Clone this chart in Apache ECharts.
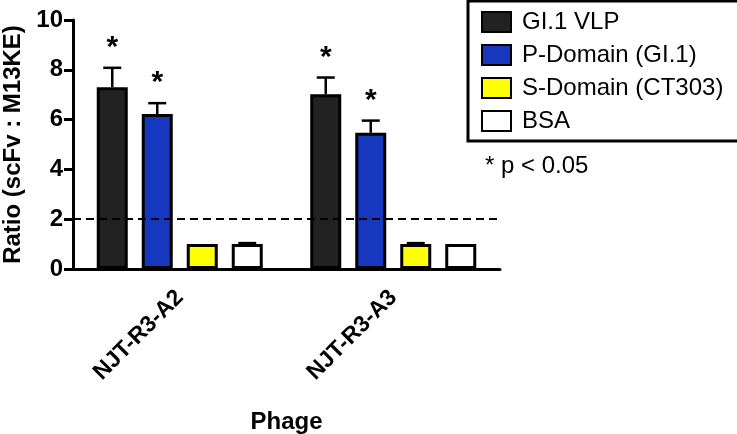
<!DOCTYPE html>
<html>
<head>
<meta charset="utf-8">
<script src="https://cdn.jsdelivr.net/npm/echarts@6/dist/echarts.min.js"></script>
<style>html,body{margin:0;padding:0;background:#fff;}#c{width:737px;height:434px;}</style>
</head>
<body>
<div id="c"></div>
<script>
var categories = ['NJT-R3-A2', 'NJT-R3-A3'];
var seriesNames = ['GI.1 VLP', 'P-Domain (GI.1)', 'S-Domain (CT303)', 'BSA'];
var colors = ['#222222', '#1538be', '#ffff00', '#ffffff'];
var vlpMean = [7.3, 7.02];
var vlpErr = [0.78, 0.67];
var pDomMean = [6.22, 5.47];
var pDomErr = [0.44, 0.49];
var sDomMean = [1.0, 1.0];
var sDomErr = [0.0, 0.04];
var bsaMean = [1.0, 1.0];
var bsaErr = [0.04, 0.0];
var significant = [[true, true], [true, true], [false, false], [false, false]];
var yTicks = [0, 2, 4, 6, 8, 10];
var threshold = 2;

var FONT = '"Liberation Sans", Arial, sans-serif';
var means = [vlpMean, pDomMean, sDomMean, bsaMean];
var errs = [vlpErr, pDomErr, sDomErr, bsaErr];
var BW = 31, GAP = 14;

var series = [];
means.forEach(function (m, i) {
  var s = {
    name: seriesNames[i], type: 'bar', data: m, barWidth: BW, barGap: (GAP / BW * 100) + '%',
    itemStyle: { color: colors[i], borderColor: '#000', borderWidth: 3 },
    z: 2
  };
  if (i === 0) {
    s.markLine = {
      silent: true, symbol: 'none', label: { show: false },
      lineStyle: { type: [8, 5], color: '#000', width: 2 },
      data: [{ yAxis: threshold }]
    };
  }
  series.push(s);
});
means.forEach(function (m, i) {
  series.push({
    type: 'custom', name: seriesNames[i] + ' err', z: 1,
    data: m.map(function (v, j) { return [j, v, v + errs[i][j], significant[i][j] ? 1 : 0]; }),
    renderItem: function (params, api) {
      var off = (i - 1.5) * (BW + GAP);
      var base = api.coord([api.value(0), api.value(1)]);
      var top = api.coord([api.value(0), api.value(2)]);
      var x = base[0] + off;
      var children = [];
      if (api.value(2) > api.value(1)) {
        children.push({ type: 'line', shape: { x1: x, y1: base[1], x2: x, y2: top[1] }, style: { stroke: '#000', lineWidth: 2.5 } });
        children.push({ type: 'line', shape: { x1: x - 9, y1: top[1], x2: x + 9, y2: top[1] }, style: { stroke: '#000', lineWidth: 2.5 } });
      }
      if (api.value(3)) {
        children.push({ type: 'text', style: { text: '*', x: x, y: top[1] - 20, align: 'center', verticalAlign: 'middle', font: 'bold 30px ' + FONT, fill: '#000' } });
      }
      return { type: 'group', children: children };
    }
  });
});

var chart = echarts.init(document.getElementById('c'), null, { renderer: 'canvas' });
chart.setOption({
  animation: false,
  backgroundColor: '#fff',
  grid: { left: 73, right: 237, top: 20, bottom: 165, containLabel: false, outerBoundsMode: 'none' },
  legend: {
    data: seriesNames.map(function (n) { return { name: n, icon: 'rect' }; }),
    orient: 'vertical', left: 468, top: 1,
    padding: [9, 30, 8, 13], itemWidth: 29, itemHeight: 20, itemGap: 9,
    borderColor: '#000', borderWidth: 3, backgroundColor: '#fff',
    textStyle: { fontSize: 24, color: '#000', fontFamily: FONT, padding: [0, 0, 0, 6] },
    selectedMode: false
  },
  xAxis: {
    type: 'category', data: categories,
    name: 'Phage', nameLocation: 'middle', nameGap: 141,
    nameTextStyle: { fontSize: 24, fontWeight: 'bold', color: '#000', fontFamily: FONT },
    axisLine: { lineStyle: { color: '#000', width: 3 } },
    axisTick: { alignWithLabel: true, length: 9, lineStyle: { color: '#000', width: 3 } },
    axisLabel: { rotate: 45, fontSize: 23, fontWeight: 'bold', color: '#000', margin: 25, fontFamily: FONT }
  },
  yAxis: {
    type: 'value', min: 0, max: 10, interval: 2,
    name: 'Ratio (scFv : M13KE)', nameLocation: 'middle', nameGap: 48,
    nameTextStyle: { fontSize: 24, fontWeight: 'bold', color: '#000', fontFamily: FONT },
    axisLine: { show: true, lineStyle: { color: '#000', width: 3 } },
    axisTick: { show: true, inside: false, length: 9, lineStyle: { color: '#000', width: 3 } },
    axisLabel: { fontSize: 24, fontWeight: 'bold', color: '#000', margin: 10, fontFamily: FONT,
      formatter: function (v) { return yTicks.indexOf(v) >= 0 ? String(v) : ''; } },
    splitLine: { show: false }
  },
  graphic: [{
    type: 'text', left: 485, top: 154,
    style: { text: '* p < 0.05', font: '24px ' + FONT, fill: '#000' }
  }],
  series: series
});
</script>
</body>
</html>
